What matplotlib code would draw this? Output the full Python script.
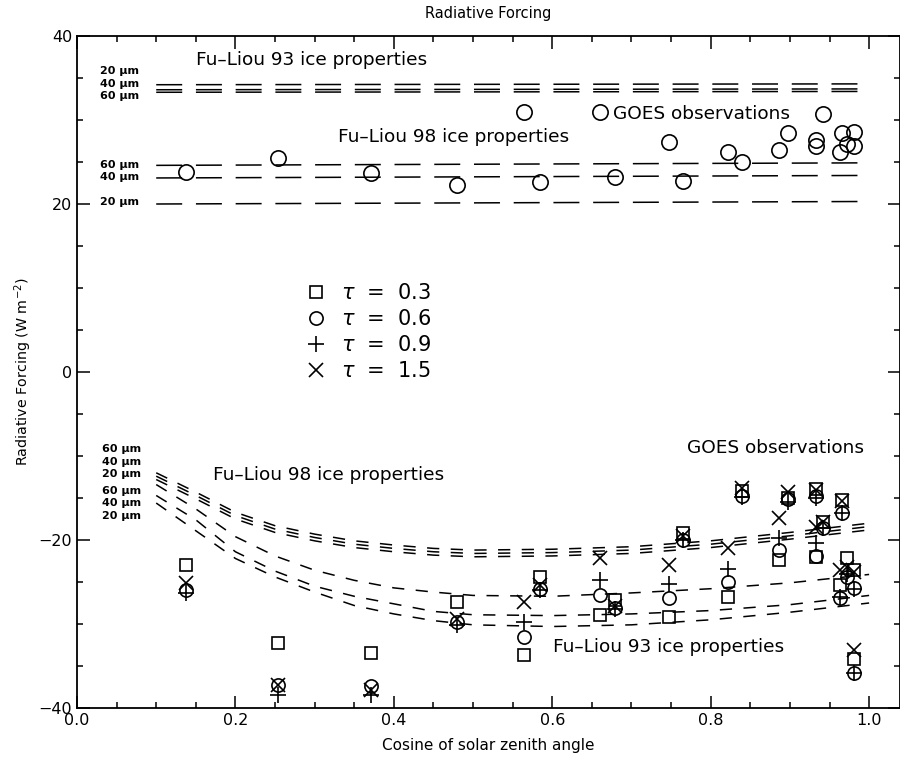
import matplotlib
matplotlib.use('Agg')
import matplotlib.pyplot as plt
from matplotlib.ticker import MultipleLocator

plt.rcParams['font.family'] = ['DejaVu Sans']

# model curves: cosine of solar zenith angle grid
mu_flat = [0.10, 1.00]
# longwave forcing, Fu-Liou 93 / 98 (20, 40, 60 um)
lw93_20 = [34.2, 34.3]
lw93_40 = [33.6, 33.7]
lw93_60 = [33.3, 33.4]
lw98_60 = [24.6, 24.9]
lw98_40 = [23.1, 23.4]
lw98_20 = [20.0, 20.3]

mu = [0.10, 0.15, 0.20, 0.25, 0.30, 0.35, 0.40, 0.45, 0.50, 0.60, 0.70, 0.80, 0.90, 1.00]
# shortwave forcing, Fu-Liou 98
sw98_60 = [-12.0, -14.3, -16.7, -18.3, -19.3, -20.1, -20.6, -21.0, -21.2, -21.1, -20.8, -20.1, -19.1, -18.0]
sw98_40 = [-12.4, -14.7, -17.1, -18.7, -19.7, -20.5, -21.0, -21.4, -21.6, -21.5, -21.2, -20.5, -19.5, -18.4]
sw98_20 = [-12.8, -15.1, -17.5, -19.1, -20.1, -20.9, -21.4, -21.8, -22.0, -21.9, -21.6, -20.9, -19.9, -18.8]
# shortwave forcing, Fu-Liou 93
sw93_60 = [-13.4, -16.3, -19.6, -21.9, -23.6, -24.8, -25.7, -26.2, -26.6, -26.7, -26.3, -25.8, -25.1, -24.1]
sw93_40 = [-14.7, -17.6, -21.4, -23.7, -25.5, -26.7, -27.6, -28.5, -28.9, -29.0, -28.8, -28.4, -27.7, -26.6]
sw93_20 = [-15.6, -18.9, -22.2, -24.4, -26.2, -27.8, -28.8, -29.6, -30.1, -30.3, -30.1, -29.5, -28.6, -27.5]

# GOES observations
obs_mu = [0.137, 0.254, 0.371, 0.480, 0.564, 0.584, 0.660, 0.679, 0.748, 0.765, 0.822,
          0.839, 0.886, 0.897, 0.933, 0.933, 0.942, 0.966, 0.963, 0.972, 0.981, 0.981]
obs_lw = [23.8, 25.5, 23.7, 22.3, 31.0, 22.6, 31.0, 23.2, 27.4, 22.7, 26.2,
          25.0, 26.4, 28.5, 27.6, 26.9, 30.7, 28.4, 26.2, 27.1, 28.6, 26.9]
obs_sw_03 = [-23.0, -32.3, -33.5, -27.4, -33.7, -24.4, -28.9, -27.1, -29.2, -19.2, -26.8,
             -14.2, -22.4, -15.0, -22.0, -13.9, -17.8, -15.2, -25.4, -22.1, -23.6, -34.2]
obs_sw_06 = [-25.9, -37.3, -37.4, -29.8, -31.5, -25.8, -26.5, -28.1, -26.9, -20.0, -25.0,
             -14.8, -21.2, -15.1, -21.9, -14.8, -18.6, -16.8, -26.9, -24.4, -25.7, -35.8]
obs_sw_09 = [-26.3, -38.4, -38.4, -30.1, -29.8, -26.0, -24.8, -28.2, -25.2, -20.0, -23.4,
             -14.9, -19.8, -15.5, -20.4, -15.0, -18.6, -16.8, -26.8, -24.0, -25.8, -35.8]
obs_sw_15 = [-25.1, -37.3, -37.9, -29.4, -27.4, -25.4, -22.1, -27.8, -23.0, -19.5, -21.0,
             -13.8, -17.4, -14.3, -18.5, -14.1, -17.9, -15.4, -23.6, -23.2, -23.8, -33.1]
taus = ['0.3', '0.6', '0.9', '1.5']

fig = plt.figure(figsize=(9, 7.58), dpi=100)
ax = fig.add_axes([77 / 900, 50 / 758, 823 / 900, 672 / 758])

long_dash = (0, (17, 9))
short_dash = (0, (8, 7.5))
for yv in [lw93_20, lw93_40, lw93_60, lw98_60, lw98_40, lw98_20]:
    ax.plot(mu_flat, yv, color='k', lw=1.1, linestyle=long_dash)
for yv in [sw98_60, sw98_40, sw98_20, sw93_60, sw93_40, sw93_20]:
    ax.plot(mu, yv, color='k', lw=1.1, linestyle=short_dash)

ax.plot(obs_mu, obs_lw, 'o', mfc='none', mec='k', ms=11, mew=1.2)
h_sq, = ax.plot(obs_mu, obs_sw_03, 's', mfc='none', mec='k', ms=8.5, mew=1.2)
h_ci, = ax.plot(obs_mu, obs_sw_06, 'o', mfc='none', mec='k', ms=9.5, mew=1.2)
h_pl, = ax.plot(obs_mu, obs_sw_09, '+', mfc='none', mec='k', ms=12, mew=1.2)
h_xx, = ax.plot(obs_mu, obs_sw_15, 'x', mfc='none', mec='k', ms=9.5, mew=1.2)

ax.legend([h_sq, h_ci, h_pl, h_xx], [r'$\tau$  =  ' + t for t in taus],
          loc='upper left', bbox_to_anchor=(0.278, 0.632), frameon=False,
          fontsize=15, handlelength=1.0, handletextpad=0.7, labelspacing=0.28,
          borderpad=0, borderaxespad=0)

fs = 13.3
ax.text(0.15, 37.1, 'Fu\u2013Liou 93 ice properties', fontsize=fs, va='center')
ax.text(0.329, 28.0, 'Fu\u2013Liou 98 ice properties', fontsize=fs, va='center')
ax.text(0.677, 30.7, 'GOES observations', fontsize=fs, va='center')
ax.text(0.172, -12.3, 'Fu\u2013Liou 98 ice properties', fontsize=fs, va='center')
ax.text(0.770, -9.0, 'GOES observations', fontsize=fs, va='center')
ax.text(0.601, -32.7, 'Fu\u2013Liou 93 ice properties', fontsize=fs, va='center')

# effective radius labels
for lab, yy in zip(['20', '40', '60', '60', '40', '20'], [35.8, 34.3, 32.8, 24.6, 23.2, 20.2]):
    ax.text(0.029, yy, lab + ' \u03bcm', fontsize=8, fontweight='bold', va='center')
for lab, yy in zip(['60', '40', '20', '60', '40', '20'], [-9.2, -10.7, -12.1, -14.2, -15.6, -17.1]):
    ax.text(0.032, yy, lab + ' \u03bcm', fontsize=8, fontweight='bold', va='center')

ax.set_xlim(0, 1.039)
ax.set_ylim(-40, 40)
ax.xaxis.set_major_locator(MultipleLocator(0.2))
ax.xaxis.set_minor_locator(MultipleLocator(0.05))
ax.yaxis.set_major_locator(MultipleLocator(20))
ax.yaxis.set_minor_locator(MultipleLocator(5))
ax.xaxis.set_major_formatter(plt.FuncFormatter(lambda v, p: '%.1f' % v))
ax.tick_params(which='both', direction='in', top=True, right=True, labelsize=11.5, width=1.1)
ax.tick_params(which='major', length=9)
ax.tick_params(which='minor', length=4.5)
for s in ax.spines.values():
    s.set_linewidth(1.3)

ax.set_title('Radiative Forcing', fontsize=10.5, pad=13)
ax.set_xlabel('Cosine of solar zenith angle', fontsize=11, labelpad=7)
ax.set_ylabel('Radiative Forcing (W m$^{-2}$)', fontsize=10.3, labelpad=3)

fig.savefig('out.png', dpi=100)
